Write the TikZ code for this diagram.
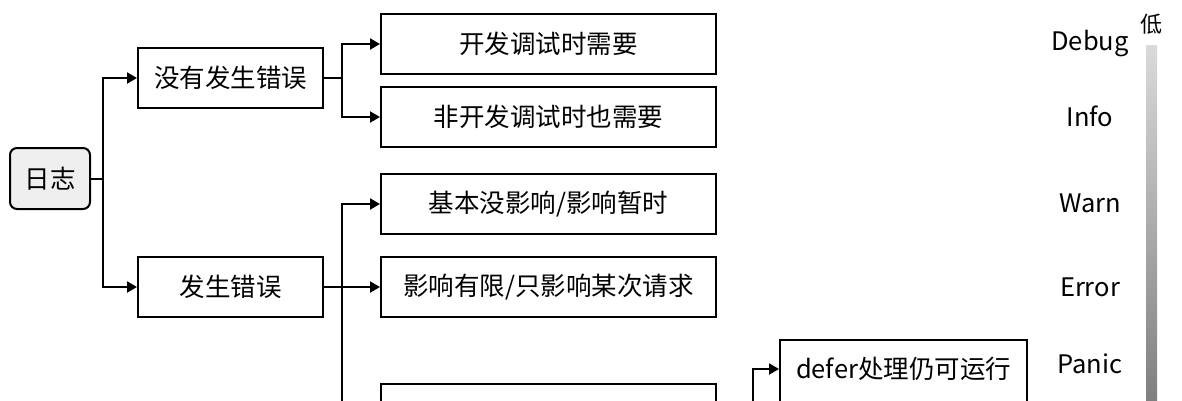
\documentclass[tikz,border=0pt]{standalone}
\usepackage{fontspec}
\setmainfont{Noto Sans CJK SC}
\usetikzlibrary{arrows.meta}
\definecolor{rootfill}{RGB}{239,239,239}
\definecolor{bartop}{RGB}{218,218,218}
\definecolor{barbot}{RGB}{122,122,122}
\begin{document}
\begin{tikzpicture}[x=1pt,y=-1pt,
  txt/.style={font=\fontsize{25.5}{30}\selectfont},
  box/.style={draw, line width=2pt, fill=white, txt, inner sep=0pt, minimum height=60pt},
  lvl1/.style={box, minimum width=185pt},
  lvl2/.style={box, minimum width=335pt},
  conn/.style={line width=2pt},
  arr/.style={conn, -{Triangle[length=10pt,width=11pt]}},
  lab/.style={txt, inner sep=0pt}
]
\useasboundingbox (0,0) rectangle (1182,400);
% root
\node[box, rounded corners=7pt, fill=rootfill, minimum width=80pt, minimum height=61pt] (root) at (50,178.5) {日志};
% level 1
\node[lvl1] (n1) at (230.5,78) {没有发生错误};
\node[lvl1] (n2) at (230.5,287) {发生错误};
% level 2
\node[lvl2] (a) at (548.5,44) {开发调试时需要};
\node[lvl2] (b) at (548.5,117) {非开发调试时也需要};
\node[lvl2] (c) at (548.5,204) {基本没影响/影响暂时};
\node[lvl2] (d) at (548.5,287) {影响有限/只影响某次请求};
\node[lvl2] (e) at (548.5,414) {};
% level 3
\node[box, minimum width=247pt, minimum height=66pt] (f) at (903.5,373) {};
\node[lab] (ft) at (903.5,369) {defer处理仍可运行};
% junctions
\coordinate (j1) at (103,178.5);
\coordinate (j2) at (342,78);
\coordinate (j3) at (342,287);
\coordinate (j4) at (753,414);
% connectors
\draw[conn] (root.east) -- (j1);
\draw[arr] (j1) |- (n1.west);
\draw[arr] (j1) |- (n2.west);
\draw[conn] (n1.east) -- (j2);
\draw[arr] (j2) |- (a.west);
\draw[arr] (j2) |- (b.west);
\draw[conn] (n2.east) -- (j3);
\draw[arr] (j3) |- (c.west);
\draw[arr] (j3) -- (d.west);
\draw[arr] (j3) |- (e.west);
\draw[conn] (e.east) -- (j4);
\draw[arr] (j4) |- (f.west |- ft);
% levels scale
\node[lab] (l1) at (1090,44) {Debug};
\node[lab] (l2) at (1090,116) {Info};
\node[lab] (l3) at (1090,203) {Warn};
\node[lab] (l4) at (1090,287) {Error};
\node[lab] (l5) at (1090,364) {Panic};
\node[inner sep=0pt, font=\fontsize{22}{26}\selectfont] (low) at (1151,24) {低};
\shade[top color=bartop, bottom color=barbot] (1146,45) rectangle (1157,420);
\end{tikzpicture}
\end{document}
